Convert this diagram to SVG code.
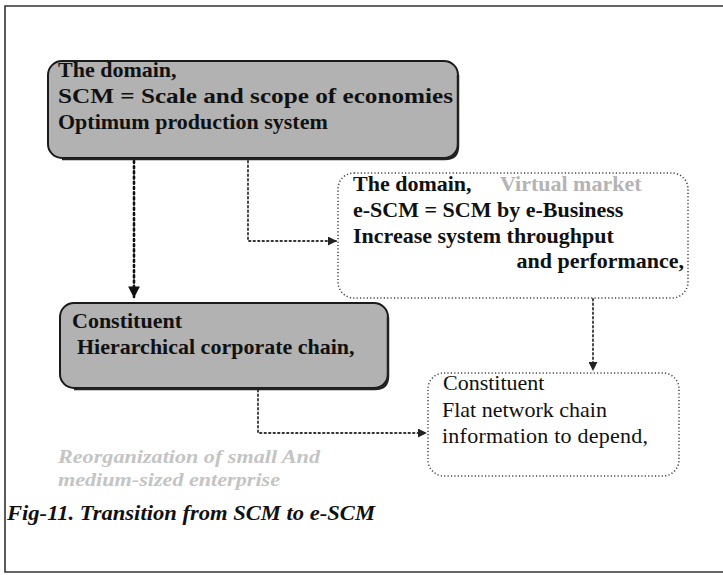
<svg xmlns="http://www.w3.org/2000/svg" width="723" height="575" viewBox="0 0 723 575">
  <style>
    .frame { fill: none; stroke: #333; stroke-width: 1.6; }
    .solid-box { fill: #b2b2b2; stroke: #1a1a1a; stroke-width: 2; }
    .shadow { fill: none; stroke: #222; stroke-width: 2.5; }
    .dot-box { fill: #ffffff; stroke: #444; stroke-width: 1.5; stroke-dasharray: 1.2 2.2; }
    .t { font-family: "Liberation Serif", "Times New Roman", serif; font-size: 22px; fill: #111; }
    .b { font-weight: bold; }
    .faint { fill: #b4b4b4; }
    .note { font-family: "Liberation Serif", "Times New Roman", serif; font-size: 18px; font-style: italic; font-weight: bold; fill: #c4c4c4; }
    .caption { font-family: "Liberation Serif", "Times New Roman", serif; font-size: 22px; font-style: italic; font-weight: bold; fill: #111; }
    .link { fill: none; stroke: #333; stroke-width: 1.8; stroke-dasharray: 1.5 3; stroke-linecap: round; }
    .link-heavy { fill: none; stroke: #111; stroke-width: 2.6; stroke-dasharray: 2 3.2; stroke-linecap: round; }
  </style>
  <defs>
    <marker id="arrow" viewBox="0 0 10 10" refX="9" refY="5" markerWidth="5" markerHeight="5" orient="auto" markerUnits="strokeWidth">
      <path d="M0,0 L10,5 L0,10 Z" fill="#222"/>
    </marker>
    <marker id="arrow-heavy" viewBox="0 0 10 10" refX="9" refY="5" markerWidth="4.5" markerHeight="4.5" orient="auto" markerUnits="strokeWidth">
      <path d="M0,0 L10,5 L0,10 Z" fill="#111"/>
    </marker>
  </defs>

  <rect x="0" y="0" width="723" height="575" fill="#ffffff"/>
  <!-- outer figure frame -->
  <path class="frame" d="M723,6 H5 V572 H723"/>

  <!-- connectors -->
  <g id="connectors">
    <path class="link-heavy" d="M134,161 V297" marker-end="url(#arrow-heavy)"/>
    <path class="link" d="M248,161 V241 H336" marker-end="url(#arrow)"/>
    <path class="link" d="M593,299 V370" marker-end="url(#arrow)"/>
    <path class="link" d="M258,390 V433 H426" marker-end="url(#arrow)"/>
  </g>

  <!-- SCM domain -->
  <g id="node-scm-domain">
    <rect class="solid-box" x="48" y="61" width="410" height="97" rx="14"/>
    <path class="shadow" d="M458,75 V146 Q458,159 445,159 H62"/>
    <text class="t b" x="58" y="77">The domain,</text>
    <text class="t b" x="58" y="103" textLength="395" lengthAdjust="spacingAndGlyphs">SCM = Scale and scope of economies</text>
    <text class="t b" x="58" y="129">Optimum production system</text>
  </g>

  <!-- e-SCM domain -->
  <g id="node-escm-domain">
    <rect class="dot-box" x="338" y="173" width="350" height="125" rx="16"/>
    <text class="t b" x="353" y="191">The domain,</text>
    <text class="t b faint" x="500" y="191">Virtual market</text>
    <text class="t b" x="353" y="217">e-SCM = SCM by e-Business</text>
    <text class="t b" x="353" y="243">Increase system throughput</text>
    <text class="t b" x="684" y="268" text-anchor="end">and performance,</text>
  </g>

  <!-- SCM constituent -->
  <g id="node-scm-constituent">
    <rect class="solid-box" x="60" y="303" width="328" height="85" rx="14"/>
    <path class="shadow" d="M388,317 V376 Q388,389 375,389 H74"/>
    <text class="t b" x="72" y="328">Constituent</text>
    <text class="t b" x="77" y="354">Hierarchical corporate chain,</text>
  </g>

  <!-- e-SCM constituent -->
  <g id="node-escm-constituent">
    <rect class="dot-box" x="428" y="373" width="251" height="103" rx="16"/>
    <text class="t" x="443" y="390">Constituent</text>
    <text class="t" x="442" y="417">Flat network chain</text>
    <text class="t" x="442" y="443" textLength="206" lengthAdjust="spacing">information to depend,</text>
  </g>

  <!-- side note -->
  <g id="note">
    <text class="note" x="58" y="463" textLength="262" lengthAdjust="spacingAndGlyphs">Reorganization of small And</text>
    <text class="note" x="58" y="486" textLength="222" lengthAdjust="spacingAndGlyphs">medium-sized enterprise</text>
  </g>

  <text class="caption" x="7" y="520" textLength="368" lengthAdjust="spacingAndGlyphs">Fig-11. Transition from SCM to e-SCM</text>
</svg>
